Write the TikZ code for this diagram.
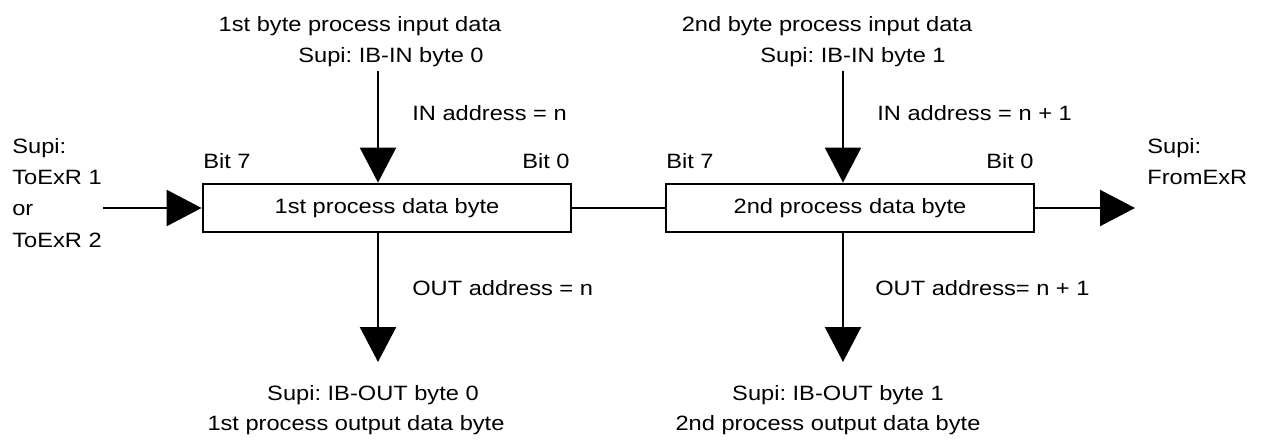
\documentclass[tikz,border=0pt]{standalone}
\usepackage{fontspec}
\setmainfont{Liberation Sans}[FakeStretch=1.14]
\usepackage{tikz}
\usetikzlibrary{arrows.meta, positioning, calc}
\frenchspacing
\tikzstyle{bytebox} = [rectangle, draw, line width=1.6pt, minimum width=7.36cm, minimum height=0.96cm, inner sep=0pt]
\tikzstyle{arrow} = [-{Triangle[length=0.7cm, width=0.72cm]}, line width=1.3pt]
\tikzstyle{link} = [line width=1.3pt]
\tikzstyle{lbl} = [inner sep=0pt]

\begin{document}
\begin{tikzpicture}[every node/.style={font=\fontsize{11.8pt}{17.8pt}\selectfont}]
    \useasboundingbox (0,0) rectangle (25.22,8.82);

    % 1st process data byte
    \node[bytebox] (B1) at (7.74, 4.66) {1st process data byte};
    \node[lbl, anchor=base west] (bit71) at (4.06, 5.46) {Bit 7};
    \node[lbl, anchor=base east] (bit01) at (11.4, 5.46) {Bit 0};

    \node[lbl, anchor=base] (title1) at (7.2, 8.2) {1st byte process input data};
    \node[lbl, anchor=base] (ibin1) at (7.82, 7.58) {Supi: IB-IN byte 0};
    \node[lbl, anchor=base west] (inadr1) at (8.24, 6.42) {IN address = n};
    \node[lbl, anchor=base west] (outadr1) at (8.24, 2.92) {OUT address = n};
    \node[lbl, anchor=base] (ibout1) at (7.46, 0.82) {Supi: IB-OUT byte 0};
    \node[lbl, anchor=base] (outdata1) at (7.12, 0.22) {1st process output data byte};

    \coordinate (top1) at (7.56, 7.4);
    \coordinate (bot1) at (7.56, 1.58);

    % 2nd process data byte
    \node[bytebox] (B2) at (17.0, 4.66) {2nd process data byte};
    \node[lbl, anchor=base west] (bit72) at (13.32, 5.46) {Bit 7};
    \node[lbl, anchor=base east] (bit02) at (20.68, 5.46) {Bit 0};

    \node[lbl, anchor=base] (title2) at (16.54, 8.2) {2nd byte process input data};
    \node[lbl, anchor=base] (ibin2) at (17.06, 7.58) {Supi: IB-IN byte 1};
    \node[lbl, anchor=base west] (inadr2) at (17.54, 6.42) {IN address = n + 1};
    \node[lbl, anchor=base west] (outadr2) at (17.5, 2.92) {OUT address= n + 1};
    \node[lbl, anchor=base] (ibout2) at (16.76, 0.82) {Supi: IB-OUT byte 1};
    \node[lbl, anchor=base] (outdata2) at (16.56, 0.22) {2nd process output data byte};

    \coordinate (top2) at (16.86, 7.4);
    \coordinate (bot2) at (16.86, 1.58);

    % ExR in / out
    \node[lbl, align=left, anchor=north west] (toexr) at (0.24, 6.06) {Supi:\\ToExR 1\\or\\ToExR 2};
    \node[lbl, align=left, anchor=north west] (fromexr) at (22.94, 6.06) {Supi:\\FromExR};
    \coordinate (inL) at (2.06, 4.66);
    \coordinate (outR) at (22.7, 4.66);

    \draw[arrow] (inL) -- (B1.west);
    \draw[link] (B1.east) -- (B2.west);
    \draw[arrow] (B2.east) -- (outR);

    \draw[arrow] (top1) -- (top1 |- B1.north);
    \draw[arrow] (bot1 |- B1.south) -- (bot1);
    \draw[arrow] (top2) -- (top2 |- B2.north);
    \draw[arrow] (bot2 |- B2.south) -- (bot2);

\end{tikzpicture}
\end{document}
